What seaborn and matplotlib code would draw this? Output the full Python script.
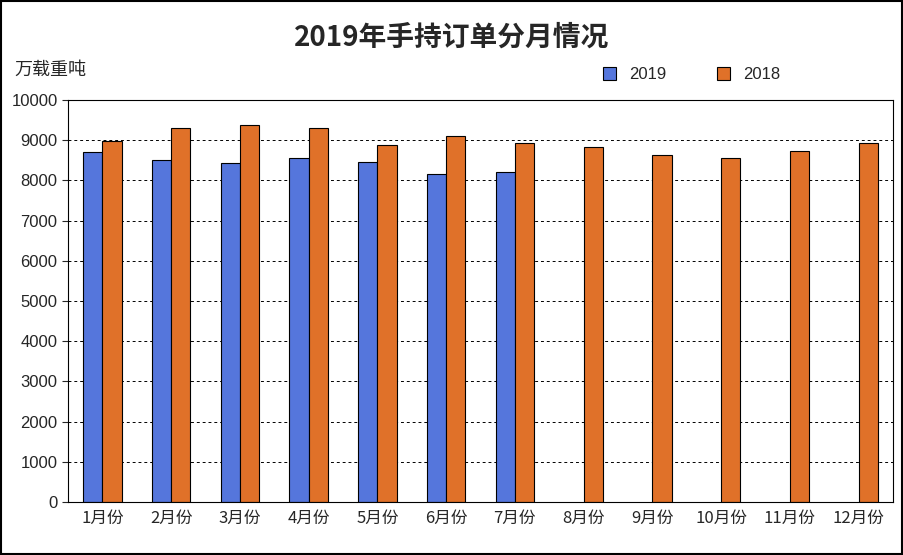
import matplotlib
matplotlib.use("Agg")
import matplotlib.pyplot as plt
import seaborn as sns
import pandas as pd

months = ["1月份","2月份","3月份","4月份","5月份","6月份","7月份","8月份","9月份","10月份","11月份","12月份"]
v2019 = [8710, 8510, 8430, 8560, 8460, 8160, 8210, None, None, None, None, None]
v2018 = [8980, 9300, 9380, 9300, 8880, 9100, 8930, 8830, 8630, 8560, 8730, 8930]

rows = []
for m, a, b in zip(months, v2019, v2018):
    rows.append({"month": m, "year": "2019", "value": a})
    rows.append({"month": m, "year": "2018", "value": b})
df = pd.DataFrame(rows)

sns.set_style("white")
plt.rcParams['font.family'] = ['Noto Sans CJK SC', 'DejaVu Sans']

fig = plt.figure(figsize=(9.04, 5.55), dpi=100)
ax = fig.add_axes([68/904, 1-502/555, (893-68)/904, 402/555])
sns.barplot(data=df, x="month", y="value", hue="year", order=months,
            hue_order=["2019", "2018"], palette=["#3F6BF2", "#FF6A0A"],
            edgecolor="black", linewidth=0.8, width=0.56, ax=ax, gap=0)
ax.set_ylim(0, 10000)
ax.set_yticks(range(0, 10001, 1000))
ax.set_yticklabels([str(v) for v in range(0, 10001, 1000)], fontsize=12, family="Liberation Sans")
ax.tick_params(axis="x", labelsize=12, length=0, pad=6)
ax.tick_params(axis="y", length=4, direction="out", left=True)
ax.yaxis.grid(True, linestyle=(0, (3, 3)), color="black", linewidth=0.7)
ax.set_axisbelow(True)
for s in ax.spines.values():
    s.set_color("black"); s.set_linewidth(0.8)
ax.set_xlabel(""); ax.set_ylabel("")
ax.legend(loc="upper left", bbox_to_anchor=(0.63, 1.12), ncol=2, frameon=False,
          fontsize=12, handlelength=0.8, handleheight=0.8, columnspacing=3, prop={"family": "Liberation Sans", "size": 12})
fig.text(0.5, 1-38/555, "2019年手持订单分月情况", ha="center", va="center", fontsize=20, fontweight="bold")
fig.text(14/904, 1-70/555, "万载重吨", ha="left", va="center", fontsize=13)
fig.patches.append(plt.Rectangle((0.001, 0.001), 0.997, 0.997, transform=fig.transFigure,
                                 fill=False, edgecolor="black", linewidth=1.5))
fig.savefig("out.png", dpi=100)
